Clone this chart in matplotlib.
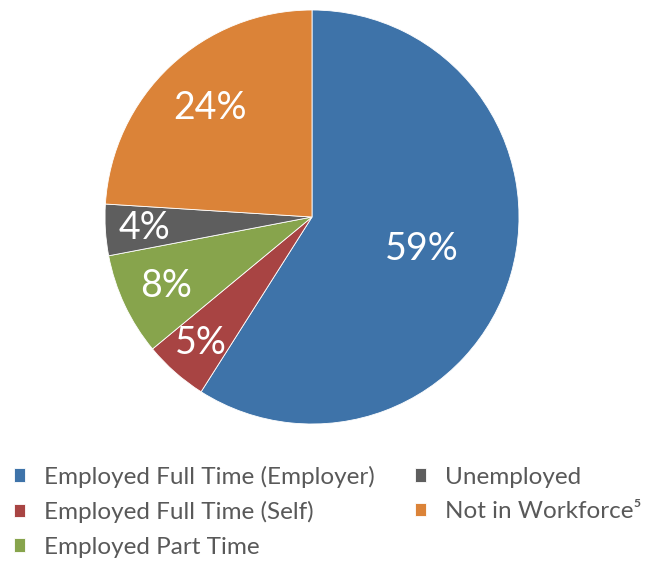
import matplotlib
matplotlib.use("Agg")
import matplotlib.pyplot as plt
import numpy as np

labels = ["Employed Full Time (Employer)", "Employed Full Time (Self)",
          "Employed Part Time", "Unemployed", "Not in Workforce\u2075"]
values = [59, 5, 8, 4, 24]
colors = ["#3E73A9", "#A84443", "#87A44C", "#5E5E5E", "#DB8338"]
# how far out each percentage label sits (fraction of radius)
label_r = [0.55, 0.81, 0.78, 0.81, 0.72]

plt.rcParams['font.family'] = ['Lato', 'DejaVu Sans']

fig = plt.figure(figsize=(6.55, 5.61), dpi=100)
cx, cy, r = 312, 217, 207
ax = fig.add_axes([(cx - r) / 655, (561 - cy - r) / 561, 2 * r / 655, 2 * r / 561])

wedges, _ = ax.pie(values, colors=colors, startangle=90, counterclock=False,
                   radius=1, wedgeprops=dict(edgecolor='white', linewidth=0.6))
ax.set_xlim(-1, 1)
ax.set_ylim(-1, 1)
ax.set_aspect('equal')

for w, v, d in zip(wedges, values, label_r):
    mid = np.deg2rad((w.theta1 + w.theta2) / 2)
    ax.text(d * np.cos(mid), d * np.sin(mid), f"{v}%", ha='center', va='center',
            color='white', fontsize=27)

fig.legend(wedges, labels, ncol=2, loc='upper left', bbox_to_anchor=(0.021, 0.170),
           frameon=False, fontsize=17.5, labelcolor='#595959', handlelength=0.46,
           handleheight=0.46, handletextpad=0.78, columnspacing=1.65, labelspacing=0.55,
           borderpad=0, borderaxespad=0)

fig.savefig("out.png", dpi=100)
